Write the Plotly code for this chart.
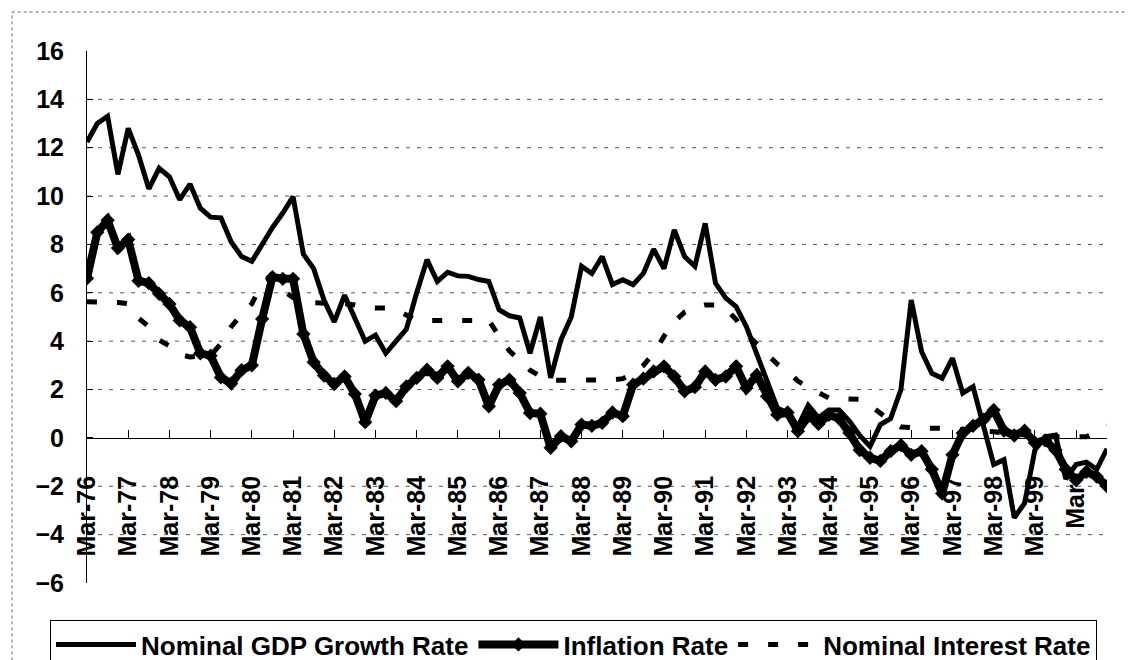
import plotly.graph_objects as go

# ---------------- data ----------------
years = list(range(1976, 2001))
months = ["Mar", "Jun", "Sep", "Dec"]
quarters = [f"{m}-{y % 100:02d}" for y in years for m in months]  # Mar-76 .. Dec-00

tick_cats = quarters[::4]
tick_labels = ["Mar-76", "Mar-77", "Mar-78", "Mar-79", "Mar-80", "Mar-81", "Mar-82",
               "Mar-83", "Mar-84", "Mar-85", "Mar-86", "Mar-87", "Mar-88", "Mar-89",
               "Mar-90", "Mar-91", "Mar-92", "Mar-93", "Mar-94", "Mar-95", "Mar-96",
               "Mar-97", "Mar-98", "Mar-99", "Mar-"]

gdp_growth = [
    12.24, 13.0, 13.3, 10.9, 12.8, 11.7, 10.3, 11.15, 10.8, 9.85,
    10.5, 9.5, 9.13, 9.1, 8.1, 7.5, 7.3, 8.0, 8.7, 9.3,
    9.98, 7.6, 7.0, 5.7, 4.8, 5.9, 5.0, 4.0, 4.25, 3.5,
    4.0, 4.5, 6.0, 7.37, 6.47, 6.85, 6.7, 6.68, 6.55, 6.47,
    5.3, 5.05, 4.96, 3.5, 5.0, 2.48, 4.06, 5.0, 7.1, 6.8,
    7.5, 6.34, 6.54, 6.34, 6.8, 7.8, 7.0, 8.6, 7.5, 7.1,
    8.87, 6.4, 5.78, 5.43, 4.6, 3.5, 2.4, 1.24, 1.03, 0.48,
    1.35, 0.83, 1.15, 1.15, 0.7, 0.1, -0.35, 0.55, 0.8, 2.0,
    5.7, 3.57, 2.67, 2.47, 3.3, 1.85, 2.12, 0.5, -1.1, -0.9,
    -3.3, -2.7, -0.5, 0.05, 0.12, -1.7, -1.1, -1.0, -1.3, -0.45,
]

inflation = [
    6.6, 8.5, 9.0, 7.85, 8.2, 6.5, 6.4, 5.96, 5.54, 4.86,
    4.58, 3.5, 3.4, 2.5, 2.25, 2.8, 3.0, 4.92, 6.65, 6.58,
    6.58, 4.3, 3.13, 2.58, 2.23, 2.54, 1.82, 0.65, 1.75, 1.86,
    1.52, 2.13, 2.48, 2.82, 2.48, 2.96, 2.34, 2.69, 2.41, 1.31,
    2.2, 2.41, 1.86, 1.03, 1.0, -0.41, 0.07, -0.14, 0.55, 0.5,
    0.62, 1.05, 0.9, 2.2, 2.45, 2.75, 2.96, 2.54, 1.93, 2.1,
    2.75, 2.4, 2.54, 2.96, 2.06, 2.6, 1.72, 0.96, 1.05, 0.28,
    0.9, 0.58, 0.95, 0.8, 0.2, -0.5, -0.82, -0.95, -0.55, -0.3,
    -0.7, -0.55, -1.3, -2.3, -0.7, 0.2, 0.5, 0.75, 1.15, 0.3,
    0.1, 0.3, -0.2, -0.1, -0.5, -1.3, -1.75, -1.4, -1.6, -2.0,
]

interest_rate = [
    5.63, 5.63, 5.6, 5.6, 5.55, 4.95, 4.6, 4.05, 3.8, 3.45,
    3.35, 3.35, 3.4, 3.9, 4.6, 5.1, 5.55, 6.4, 6.65, 6.1,
    5.8, 5.6, 5.6, 5.6, 5.6, 5.55, 5.5, 5.4, 5.37, 5.37,
    5.3, 5.05, 4.86, 4.86, 4.86, 4.86, 4.86, 4.86, 4.86, 4.86,
    4.2, 3.6, 3.2, 2.8, 2.55, 2.4, 2.38, 2.38, 2.38, 2.38,
    2.38, 2.4, 2.45, 2.65, 3.0, 3.5, 4.2, 4.8, 5.2, 5.4,
    5.5, 5.5, 5.35, 4.9, 4.3, 3.9, 3.5, 3.05, 2.75, 2.35,
    2.1, 1.85, 1.65, 1.62, 1.6, 1.6, 1.35, 1.0, 0.7, 0.45,
    0.42, 0.42, 0.4, 0.4, 0.38, 0.35, 0.33, 0.3, 0.25, 0.2,
    0.15, 0.1, 0.05, 0.05, 0.05, 0.05, 0.05, 0.05, 0.25, 0.5,
]

y_ticks = list(range(-6, 17, 2))
grid_vals = [-4, -2, 2, 4, 6, 8, 10, 12, 14]

# ---------------- figure ----------------
# page body has an 8px margin, so the figure is 8px smaller than the window
FONT = "Liberation Sans, Arial, sans-serif"
PLOT_H = 532.0
PLOT_W = 1020.0
fig = go.Figure()

fig.add_trace(go.Scatter(
    x=quarters, y=gdp_growth, name="Nominal GDP Growth Rate", mode="lines",
    line=dict(color="black", width=5),
))
fig.add_trace(go.Scatter(
    x=quarters, y=inflation, name="Inflation Rate", mode="lines+markers",
    line=dict(color="black", width=8),
    marker=dict(symbol="diamond", size=11, color="black"),
))
fig.add_trace(go.Scatter(
    x=quarters, y=interest_rate, name="Nominal Interest Rate", mode="lines",
    line=dict(color="black", width=5, dash="10px,20px"),
))

shapes = []
for g in grid_vals:
    shapes.append(dict(type="line", xref="paper", yref="y", x0=0, x1=1, y0=g, y1=g,
                       line=dict(color="#555555", width=1, dash="4px,7px"), layer="below"))
# outer chart frame
shapes.append(dict(type="rect", xref="paper", yref="paper",
                   x0=(12 - 87) / PLOT_W, x1=(1127 - 87) / PLOT_W,
                   y0=-0.3, y1=(583 - 12) / PLOT_H,
                   line=dict(color="#666666", width=1, dash="dot"), layer="below"))

fig.update_layout(
    width=1125, height=652,
    margin=dict(l=79, r=26, t=43, b=77, autoexpand=False),
    paper_bgcolor="white", plot_bgcolor="white",
    font=dict(family=FONT, size=24, color="black", weight="bold"),
    showlegend=True,
    legend=dict(
        orientation="h", x=(50 - 87) / PLOT_W, xanchor="left",
        y=(583 - 620) / PLOT_H, yanchor="top",
        bordercolor="black", borderwidth=1, bgcolor="white",
        font=dict(family=FONT, size=26, color="black", weight="bold"),
        itemwidth=80, traceorder="normal",
    ),
    shapes=shapes,
    xaxis=dict(
        type="category", range=[0, len(quarters) - 1],
        anchor="free", position=6 / 22,
        tickmode="array", tickvals=tick_cats, ticktext=tick_labels,
        tickangle=-90, ticks="inside", ticklen=8, tickcolor="black", tickwidth=1,
        showline=True, linecolor="black", linewidth=1,
        showgrid=False, zeroline=False,
        ticklabelstandoff=27,
        tickfont=dict(family=FONT, size=25, color="black", weight="bold"),
    ),
    yaxis=dict(
        range=[-6, 16], tickvals=y_ticks,
        ticks="inside", ticklen=6, tickcolor="black",
        showline=True, linecolor="black", linewidth=1,
        showgrid=False, zeroline=False,
        ticklabelstandoff=17,
        tickfont=dict(family=FONT, size=25, color="black", weight="bold"),
    ),
)

fig.write_html("out.html")
